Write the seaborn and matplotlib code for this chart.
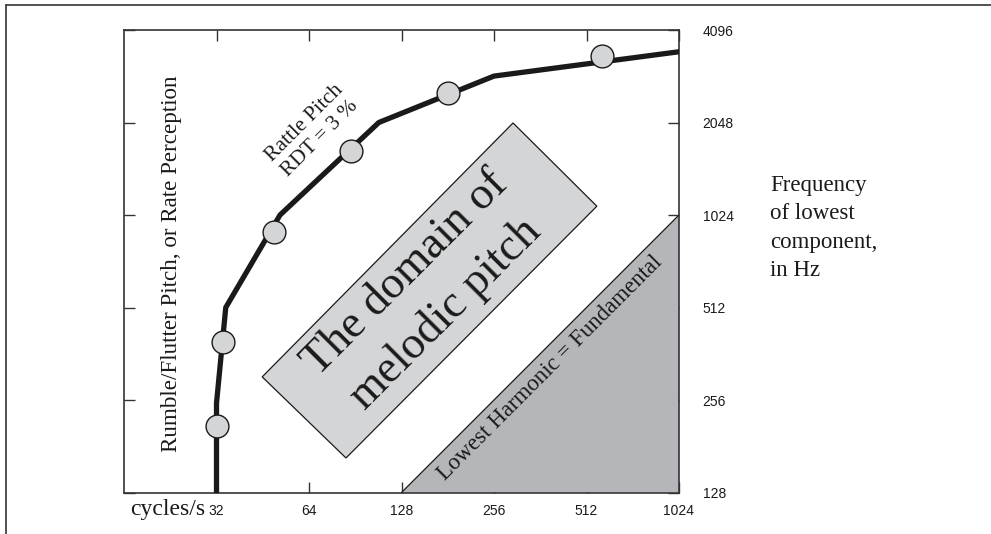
import numpy as np
import pandas as pd
import matplotlib
matplotlib.use("Agg")
import matplotlib.pyplot as plt
import seaborn as sns
from matplotlib.lines import Line2D
from matplotlib.patches import Polygon

# ---- data ----
curve_x = [32, 32, 34.3, 51.5, 108, 256, 1024]
curve_y = [128, 250, 512, 1024, 2048, 2900, 3480]
point_x = [32, 33.5, 49.2, 87.5, 182, 573]
point_y = [211, 396, 902, 1657, 2553, 3361]
harmonic_x = [128, 1024, 1024]
harmonic_y = [128, 1024, 128]
x_ticks = [32, 64, 128, 256, 512, 1024]
y_ticks = [128, 256, 512, 1024, 2048, 4096]

sns.set_style("white")
SERIF = ["Liberation Serif", "DejaVu Serif"]
SANS = ["Liberation Sans", "DejaVu Sans"]
INK = "#1a1a1a"

W, H = 991, 534
fig = plt.figure(figsize=(W / 100, H / 100), dpi=100)
ax = fig.add_axes([124 / W, 1 - 492.5 / H, 555 / W, 462.5 / H])
ax.set_xscale("log", base=2)
ax.set_yscale("log", base=2)
ax.set_xlim(16, 1024)
ax.set_ylim(128, 4096)

# lowest harmonic = fundamental region
ax.fill(harmonic_x, harmonic_y, color="#b5b6b9", lw=0, zorder=1)
ax.plot([harmonic_x[0], harmonic_x[1]], [harmonic_y[0], harmonic_y[1]],
        color=INK, lw=0.9, zorder=2)

# melodic-pitch box (annotation)
box = Polygon([(0.701, 0.799), (0.852, 0.619), (0.400, 0.0746), (0.249, 0.250)],
              closed=True, transform=ax.transAxes, fc="#d4d5d7", ec=INK,
              lw=0.9, zorder=2)
ax.add_patch(box)
ax.text(0.544, 0.430, "The domain of\nmelodic pitch", rotation=45,
        rotation_mode="anchor", ha="center", va="center", fontsize=33,
        family=SERIF, linespacing=1.42, color=INK, transform=ax.transAxes,
        zorder=3)

# rate / pitch curve
df_curve = pd.DataFrame({"f": curve_x, "h": curve_y})
sns.lineplot(data=df_curve, x="f", y="h", estimator=None, sort=False,
             color=INK, lw=3.8, ax=ax, zorder=4)
df_pts = pd.DataFrame({"f": point_x, "h": point_y})
sns.scatterplot(data=df_pts, x="f", y="h", s=270, color="#d4d5d7",
                edgecolor=INK, linewidth=1.0, ax=ax, zorder=5)

ax.set_xlabel("")
ax.set_ylabel("")
ax.set_xticks(x_ticks, [str(v) for v in x_ticks])
ax.set_yticks(y_ticks, [str(v) for v in y_ticks])
ax.minorticks_off()
ax.tick_params(which="major", direction="in", length=7.7, width=1.0,
               color="#333333", top=True, right=True, left=True, bottom=True,
               labelleft=False, labelright=True, labelbottom=True,
               labelsize=10, labelcolor=INK)
ax.tick_params(axis="x", pad=8.5)
ax.tick_params(axis="y", pad=17)
for lab in ax.get_xticklabels() + ax.get_yticklabels():
    lab.set_family(SANS)
for sp in ax.spines.values():
    sp.set_visible(True)
    sp.set_color("#333333")
    sp.set_linewidth(1.2)

# texts
ax.text(0.0847, 0.494, "Rumble/Flutter Pitch, or Rate Perception",
        rotation=90, ha="center", va="center", fontsize=16.6, family=SERIF,
        color=INK, transform=ax.transAxes)
ax.text(0.34, 0.782, "Rattle Pitch\nRDT = 3 %", rotation=45,
        rotation_mode="anchor", ha="center", va="center", fontsize=15.5,
        family=SERIF, color=INK, transform=ax.transAxes, linespacing=1.2)
ax.text(0.768, 0.268, "Lowest Harmonic = Fundamental", rotation=45,
        rotation_mode="anchor", ha="center", va="center", fontsize=16.5,
        family=SERIF, color=INK, transform=ax.transAxes, zorder=3)

fig.text(205 / W, 1 - 510 / H, "cycles/s", ha="right", va="center",
         fontsize=17, family=SERIF, color=INK)
fig.text(770 / W, 1 - 228 / H, "Frequency\nof lowest\ncomponent,\nin Hz",
         ha="left", va="center", fontsize=16.5, family=SERIF, color=INK,
         linespacing=1.45)

# outer frame (top and left only)
fig.add_artist(Line2D([6 / W, 1], [1 - 5 / H, 1 - 5 / H], color="#333333",
                      lw=1.2, transform=fig.transFigure))
fig.add_artist(Line2D([6 / W, 6 / W], [0, 1 - 5 / H], color="#333333",
                      lw=1.2, transform=fig.transFigure))

fig.savefig("out.png", dpi=100)
